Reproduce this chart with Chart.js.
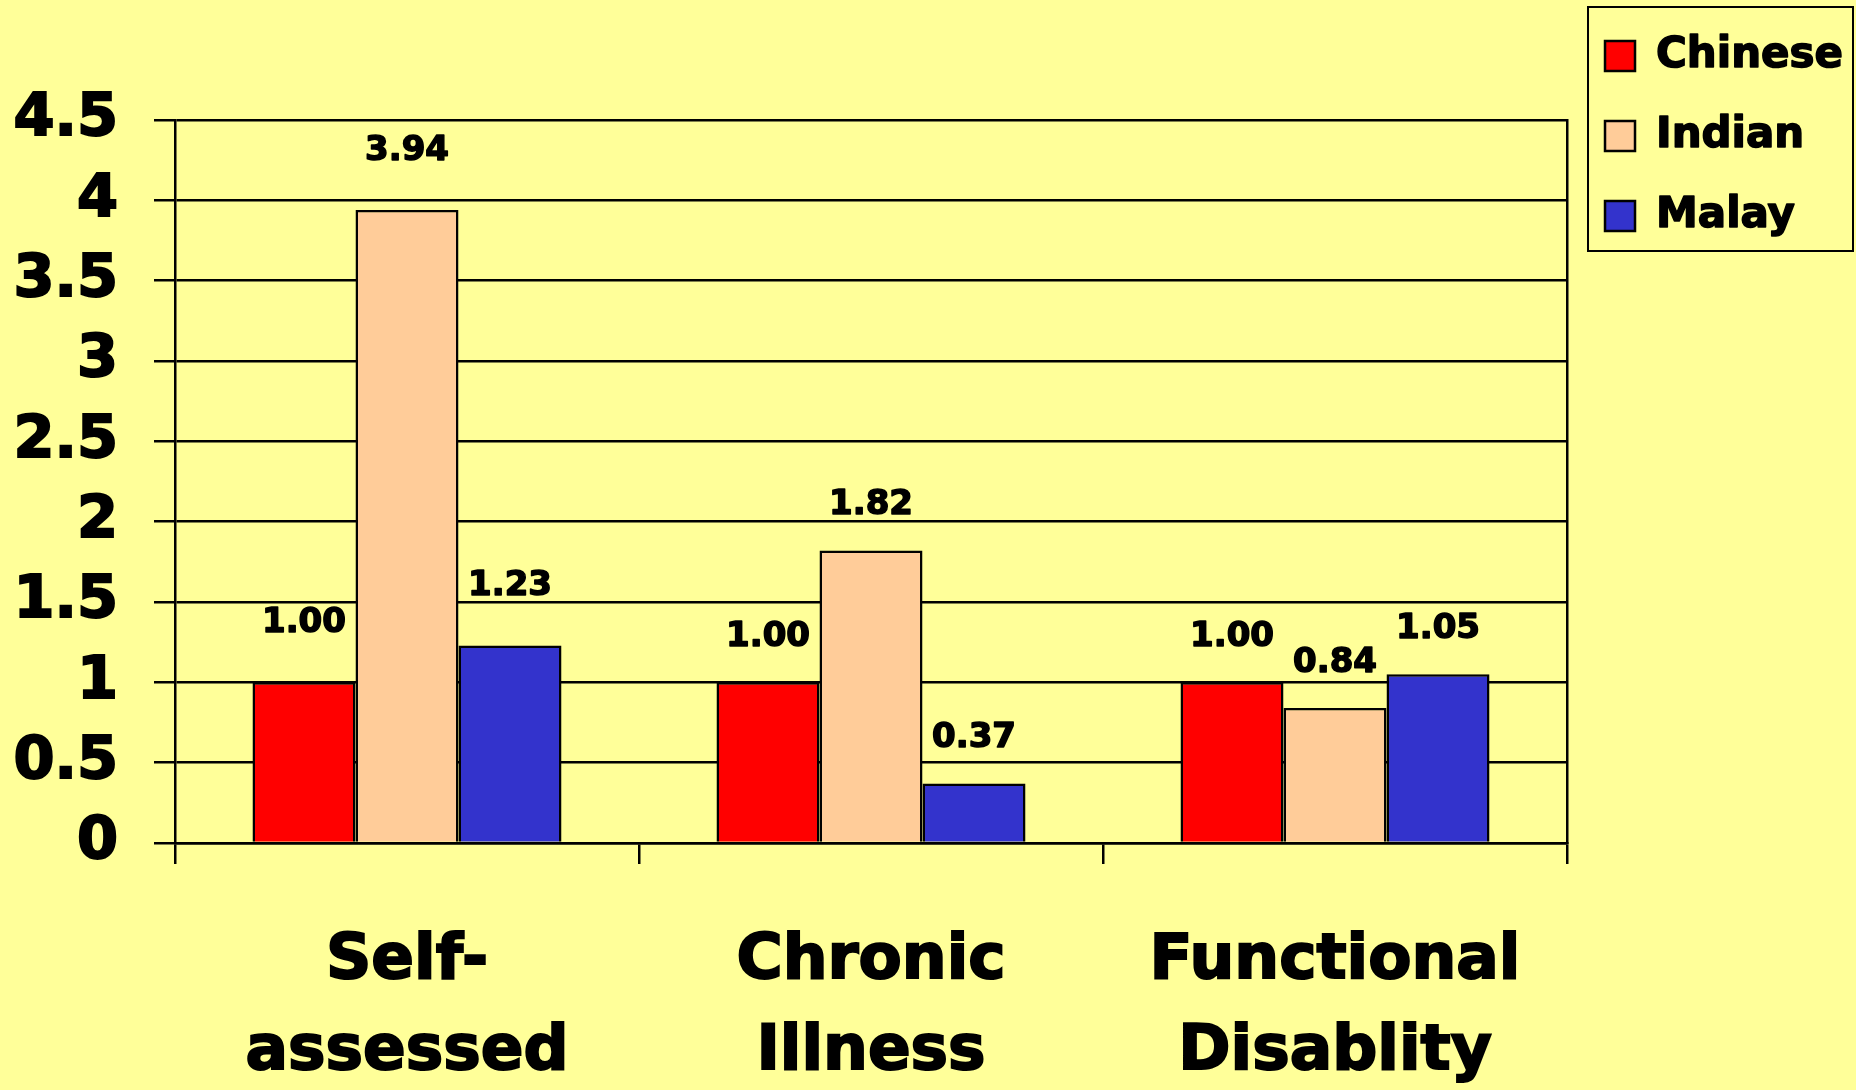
<!DOCTYPE html>
<html>
<head>
<meta charset="utf-8">
<script src="https://cdn.jsdelivr.net/npm/chart.js@4.4.1/dist/chart.umd.min.js"></script>
<style>
  html, body { margin: 0; padding: 0; background: #ffff99; }
  canvas { display: block; }
</style>
</head>
<body>
<canvas id="chart" width="1856" height="1090"></canvas>
<script>
// data
var categories = [['Self-', 'assessed'], ['Chronic', 'Illness'], ['Functional', 'Disablity']];
var chinese = [1.00, 1.00, 1.00];
var indian = [3.94, 1.82, 0.84];
var malay = [1.23, 0.37, 1.05];
var yTicks = [0, 0.5, 1, 1.5, 2, 2.5, 3, 3.5, 4, 4.5];

var FONT = '"DejaVu Sans", "Liberation Sans", sans-serif';
var LEGEND_SIZE = 42;
// how far above the bar top each value label sits, per category
var labelLift = [59, 45, 45];

var valueLabels = {
  id: 'valueLabels',
  afterDatasetsDraw: function(chart) {
    var ctx = chart.ctx;
    ctx.save();
    ctx.font = 'bold 34px ' + FONT;
    ctx.fillStyle = '#000';
    ctx.strokeStyle = '#000';
    ctx.lineWidth = 1.5;
    ctx.lineJoin = 'round';
    ctx.textAlign = 'center';
    ctx.textBaseline = 'middle';
    chart.data.datasets.forEach(function(ds, di) {
      var meta = chart.getDatasetMeta(di);
      meta.data.forEach(function(bar, i) {
        var txt = ds.data[i].toFixed(2);
        ctx.strokeText(txt, bar.x, bar.y - labelLift[i]);
        ctx.fillText(txt, bar.x, bar.y - labelLift[i]);
      });
    });
    ctx.restore();
  }
};

// frame round the legend, and a thin stroke over its text to make it heavier
var legendFrame = {
  id: 'legendFrame',
  afterDraw: function(chart) {
    var lg = chart.legend;
    var hb = lg.legendHitBoxes;
    if (!hb || !hb.length) return;
    var first = hb[0], last = hb[hb.length - 1];
    var ctx = chart.ctx;
    var left = first.left - 17;
    var top = first.top + first.height / 2 - 49;
    var bottom = last.top + last.height / 2 + 35;
    var right = chart.width - 3;
    ctx.save();
    ctx.strokeStyle = '#000';
    ctx.lineWidth = 2;
    ctx.strokeRect(left, top, right - left, bottom - top);
    ctx.font = 'bold ' + LEGEND_SIZE + 'px ' + FONT;
    ctx.textAlign = 'left';
    ctx.textBaseline = 'middle';
    ctx.lineJoin = 'round';
    ctx.lineWidth = 1.5;
    lg.legendItems.forEach(function(item, i) {
      var b = hb[i];
      ctx.strokeText(item.text, b.left + 30 + LEGEND_SIZE / 2, b.top + b.height / 2);
    });
    ctx.restore();
  }
};

new Chart(document.getElementById('chart'), {
  type: 'bar',
  data: {
    labels: categories,
    datasets: [
      {label: 'Chinese', data: chinese, backgroundColor: '#ff0000', borderColor: '#000', borderWidth: 2.5},
      {label: 'Indian', data: indian, backgroundColor: '#ffcc99', borderColor: '#000', borderWidth: 2.5},
      {label: 'Malay', data: malay, backgroundColor: '#3333cc', borderColor: '#000', borderWidth: 2.5}
    ]
  },
  plugins: [valueLabels, legendFrame],
  options: {
    responsive: false,
    animation: false,
    datasets: {bar: {categoryPercentage: 0.666, barPercentage: 1.0}},
    layout: {padding: {left: 14, right: 3, top: -3, bottom: 0}},
    plugins: {
      // empty title only used to push the plot down below the legend's top
      title: {display: true, text: '', fullSize: false, font: {size: 10}, padding: {top: 0, bottom: 111}},
      tooltip: {enabled: false},
      legend: {
        position: 'right',
        align: 'start',
        labels: {
          boxWidth: 30,
          boxHeight: 30,
          padding: 38,
          color: '#000',
          font: {family: FONT, size: LEGEND_SIZE, weight: 'bold'}
        }
      }
    },
    scales: {
      x: {
        offset: true,
        afterFit: function(scale) { scale.height = 247; },
        grid: {offset: true, drawOnChartArea: false, drawTicks: true, tickLength: 21, color: '#000', lineWidth: 2.5},
        border: {display: true, color: '#000', width: 2.5},
        ticks: {
          color: '#000',
          padding: 52,
          maxRotation: 0,
          textStrokeColor: '#000',
          textStrokeWidth: 2,
          font: {family: FONT, size: 63, weight: 'bold', lineHeight: 1.445}
        }
      },
      y: {
        min: 0,
        max: 4.5,
        afterFit: function(scale) { scale.width = 161; },
        afterBuildTicks: function(scale) {
          scale.ticks = yTicks.map(function(v) { return {value: v}; });
        },
        grid: {color: '#000', lineWidth: 2.5, tickLength: 21, drawTicks: true},
        border: {display: true, color: '#000', width: 2.5},
        ticks: {
          color: '#000',
          padding: 36,
          textStrokeColor: '#000',
          textStrokeWidth: 2,
          font: {family: FONT, size: 59, weight: 'bold'},
          callback: function(v) { return String(v); }
        }
      },
      y2: {
        position: 'right',
        min: 0,
        max: 4.5,
        grid: {drawOnChartArea: false, drawTicks: false},
        border: {display: true, color: '#000', width: 2.5},
        ticks: {display: false}
      }
    }
  }
});
</script>
</body>
</html>
